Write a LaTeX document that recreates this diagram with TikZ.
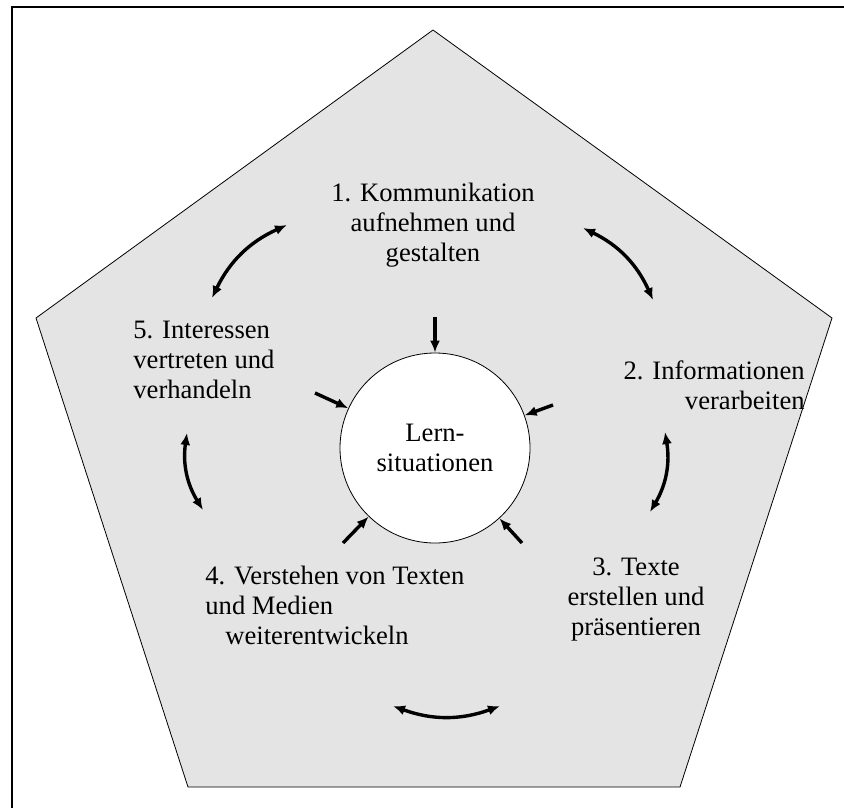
\documentclass[tikz,border=0pt]{standalone}
\usepackage{fontspec}
\setmainfont{Liberation Serif}
\usetikzlibrary{arrows.meta,positioning}
\definecolor{penta}{RGB}{228,228,228}
\tikzset{txt/.style={font=\fontsize{13.3}{15}\selectfont, inner sep=0pt}}
\tikzset{line/.style={draw, line width=1.7pt, {Latex[length=6pt,width=5pt]}-{Latex[length=6pt,width=5pt]}}}
\tikzset{arr/.style={draw, line width=1.7pt, -{Latex[length=6pt,width=5pt]}}}

\begin{document}
\begin{tikzpicture}[x=0.5pt,y=0.5pt]
			\useasboundingbox (0,0) rectangle (844,-808);
			\draw [line width=1pt] (12,-808) -- (12,-7) -- (844,-7);
			\draw [fill=penta] (433,-30) -- (832,-318) -- (680,-787) -- (188,-787) -- (36,-318) -- cycle;
			\node [circle, draw, fill=white, minimum size=95pt, txt, align=center] (lern) at (435,-448) {Lern-\\situationen};
			\node [txt, align=center]              (k1) at (433,-225) {1. Kommunikation\\aufnehmen und\\gestalten};
			\node [txt, align=right, anchor=east]  (k2) at (805,-385) {2. Informationen\\verarbeiten};
			\node [txt, align=center]              (k3) at (636,-600) {3. Texte\\erstellen und\\präsentieren};
			\node [txt, align=left, anchor=west]   (k4) at (205,-605) {4. Verstehen von Texten\\und Medien\\\hspace*{10pt}weiterentwickeln};
			\node [txt, align=left, anchor=west]   (k5) at (133,-360) {5. Interessen\\vertreten und\\verhandeln};
			%
			\coordinate (a51) at (212,-298); \coordinate (a15) at (287,-225);
			\coordinate (a12) at (583,-228); \coordinate (a21) at (653,-300);
			\coordinate (a23) at (665,-432); \coordinate (a32) at (650,-512);
			\coordinate (a34) at (500,-706); \coordinate (a43) at (393,-706);
			\coordinate (a45) at (203,-510); \coordinate (a54) at (187,-433);
			\path [line] (a51) to [bend left=20] (a15);
			\path [line] (a12) to [bend left=20] (a21);
			\path [line] (a23) to [bend left=20] (a32);
			\path [line] (a34) to [bend left=20] (a43);
			\path [line] (a45) to [bend left=20] (a54);
			%
			\coordinate (i1) at (435,-317);
			\coordinate (i2) at (553,-405);
			\coordinate (i3) at (522,-543);
			\coordinate (i4) at (343,-543);
			\coordinate (i5) at (315,-393);
			\path [arr] (i1) -- (lern);
			\path [arr] (i2) -- (lern);
			\path [arr] (i3) -- (lern);
			\path [arr] (i4) -- (lern);
			\path [arr] (i5) -- (lern);
\end{tikzpicture}
\end{document}
